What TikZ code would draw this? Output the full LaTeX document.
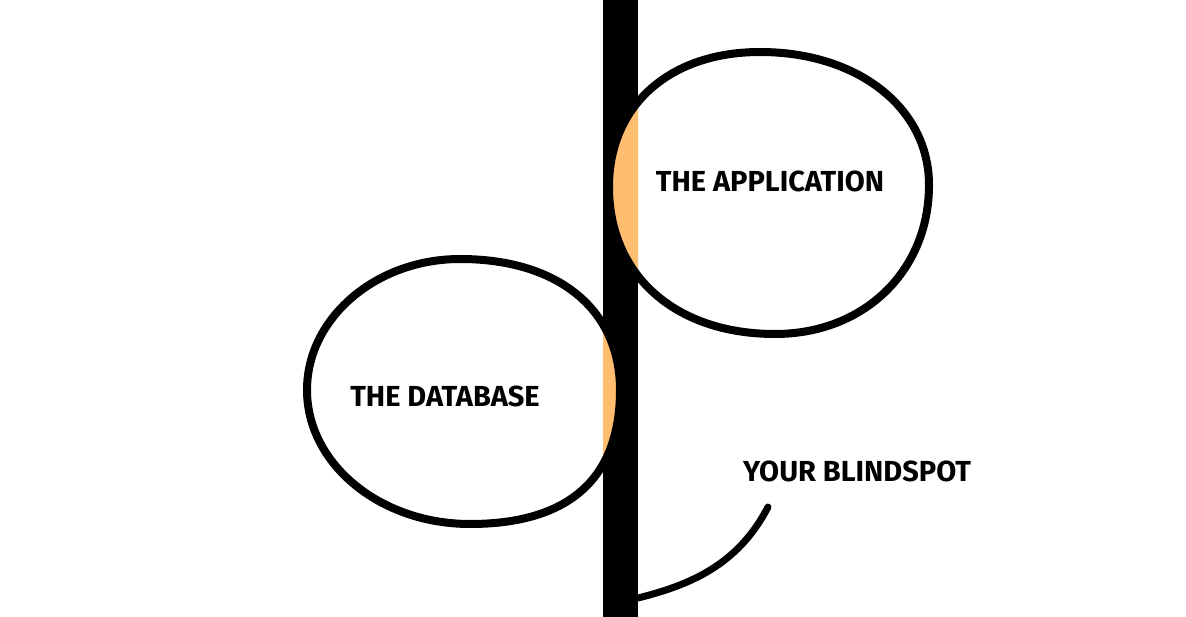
\documentclass[tikz,border=0pt]{standalone}
\usepackage{fontspec}
\setmainfont{Fira Sans}
\usepackage{xcolor}
\usepackage{tikz}
\usetikzlibrary{positioning,calc}

\definecolor{blindorange}{RGB}{255,189,112}

% hand drawn outlines
\newcommand{\apprim}{(760,52) .. controls (858,52) and (929,108) .. (929,185)
    .. controls (929,271) and (864,334) .. (775,334)
    .. controls (675,334) and (609,275) .. (609,187)
    .. controls (609,106) and (669,52) .. (760,52) -- cycle}
\newcommand{\dbrim}{(460,259) .. controls (559,259) and (620,310) .. (620,390)
    .. controls (620,482) and (565,524) .. (470,524)
    .. controls (380,524) and (307,464) .. (307,390)
    .. controls (307,318) and (376,259) .. (460,259) -- cycle}

\tikzset{
    ring/.style={draw=black, line width=8pt, line join=round},
    label/.style={font=\fontsize{29}{32}\selectfont\bfseries, inner sep=0pt}
}

\begin{document}
\begin{tikzpicture}[x=1pt, y=-1pt]
    \useasboundingbox (0,0) rectangle (1186,617);

    % Wall
    \fill[black] (603,0) rectangle (638,617);
    \coordinate (wall) at (638,598);

    % Overlap with the wall
    \begin{scope}
        \clip (603,0) rectangle (638,617);
        \fill[blindorange] \apprim;
        \fill[blindorange] \dbrim;
    \end{scope}

    % Circles
    \draw[ring] \apprim;
    \draw[ring] \dbrim;

    % Labels
    \node[label] (app) at (770,181) {THE APPLICATION};
    \node[label] (db) at (445,396) {THE DATABASE};
    \node[label] (spot) at (857,471) {YOUR BLINDSPOT};
    \coordinate (tip) at (768,507);

    % Connection
    \draw[line width=7pt, line cap=round] (tip) .. controls (738,565) and (690,585) .. (wall);
\end{tikzpicture}
\end{document}
